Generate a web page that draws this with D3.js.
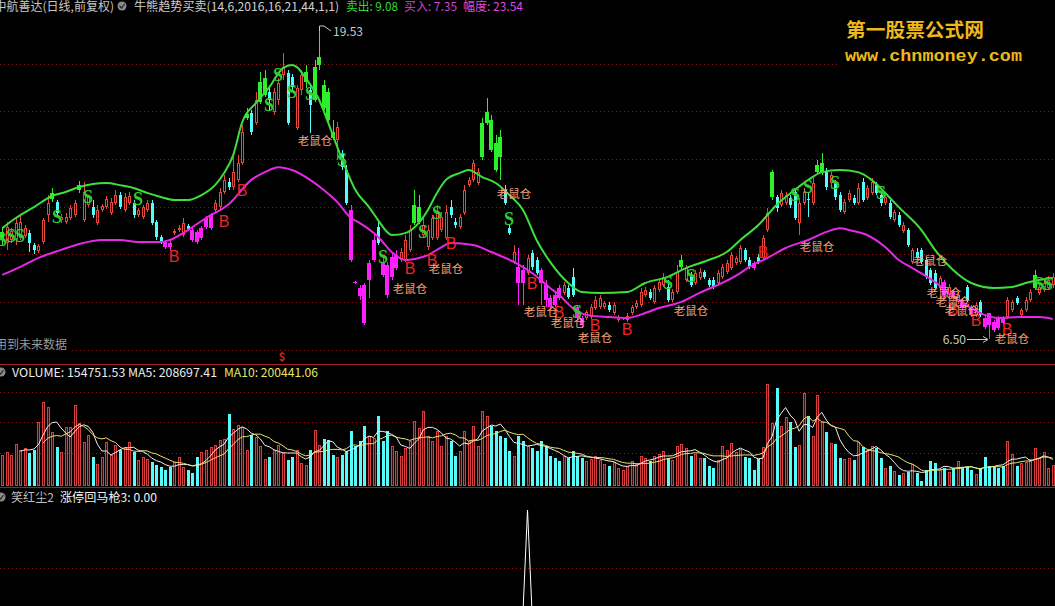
<!DOCTYPE html>
<html><head><meta charset="utf-8">
<script src="https://cdn.jsdelivr.net/npm/d3@7"></script>
<style>
html,body{margin:0;padding:0;background:#000;overflow:hidden}
svg{display:block}
text{font-family:"Noto Sans CJK SC","DejaVu Sans",sans-serif}
</style></head><body>
<svg id="c" width="1055" height="606"></svg>
<script>
// ---------------- DATA ----------------
const openP = [10.69,10.56,10.69,10.69,10.77,10.86,10.98,10.48,10.22,10.60,
11.75,12.42,12.29,11.53,11.45,11.62,11.75,12.80,11.53,12.17,
12.08,11.41,11.96,12.08,11.83,12.25,12.59,11.96,12.25,12.25,
11.75,11.66,11.96,12.25,11.45,10.82,10.60,10.56,10.98,11.11,
10.90,11.28,11.11,11.03,10.77,11.24,11.19,11.96,12.08,12.72,
13.14,12.93,13.23,13.94,15.84,16.06,15.63,16.53,16.82,16.95,
16.10,16.61,17.67,17.75,17.58,15.43,17.03,17.37,17.03,16.61,
18.09,17.24,16.95,15.26,14.92,14.37,13.65,11.96,8.91,8.66,
8.78,9.00,9.84,11.24,9.71,9.63,9.13,9.50,9.84,9.84,
10.27,11.41,11.45,10.90,10.39,10.77,10.77,11.11,10.77,12.08,
11.45,11.24,11.83,13.01,13.23,13.10,14.20,15.64,15.76,14.79,
15.05,12.80,11.19,9.76,9.55,9.42,9.29,10.14,9.84,9.42,
8.78,8.24,8.36,8.66,8.45,8.66,9.13,7.85,7.39,7.39,
7.43,7.81,7.85,7.85,7.94,7.60,7.30,7.35,7.30,7.60,
7.85,7.94,8.36,8.49,8.07,8.57,8.78,8.70,8.15,8.49,
9.55,9.00,9.21,8.87,9.08,9.33,9.00,9.00,8.87,9.13,
9.33,9.50,9.71,9.76,10.27,9.84,9.71,9.97,9.93,11.11,
12.51,12.51,12.17,12.25,12.46,12.72,11.41,12.25,12.42,12.25,
13.56,13.56,13.56,13.10,13.10,12.59,11.87,12.38,12.46,12.25,
13.14,12.46,12.68,13.01,12.59,12.25,12.25,11.53,11.75,11.07,
11.11,9.76,10.18,10.27,9.84,9.42,9.29,8.66,8.91,8.36,
8.49,8.07,8.15,8.70,7.85,7.52,8.07,7.39,7.60,7.22,
7.39,7.39,7.43,7.73,8.24,7.52,7.73,8.15,8.66,8.45,
8.57,8.66,8.78];
const highP = [11.19,11.45,11.19,11.62,11.75,11.32,11.11,10.56,10.52,11.62,
12.59,12.89,12.38,11.79,11.83,12.17,12.38,13.18,13.14,12.59,
12.38,12.17,12.21,12.55,12.46,12.80,12.72,12.68,12.72,12.38,
12.04,12.17,12.38,12.38,11.53,10.90,10.69,10.65,11.15,11.32,
11.62,11.37,11.19,11.11,11.28,11.70,11.83,12.38,12.89,13.44,
13.31,14.20,14.28,15.55,16.27,16.19,16.95,17.79,17.88,17.12,
17.12,17.54,18.60,17.88,17.71,17.24,17.88,18.09,17.24,18.30,
19.53,17.46,17.12,15.76,15.68,14.50,13.86,12.17,8.95,8.78,
8.87,9.84,10.90,11.45,10.05,9.76,10.18,10.27,10.35,10.90,
11.32,12.80,12.59,11.62,11.32,11.75,12.17,11.87,12.17,12.38,
11.62,11.79,13.01,13.35,14.07,13.73,15.85,16.69,15.97,15.13,
15.34,13.01,11.32,10.48,10.35,9.63,10.05,10.27,9.97,9.50,
9.00,8.36,8.49,8.78,8.91,8.78,9.50,7.94,7.47,7.73,
7.98,8.32,8.36,8.11,8.07,8.07,7.52,7.43,7.60,7.94,
8.15,8.66,8.70,8.62,8.78,9.00,9.29,9.00,8.62,9.63,
10.05,9.63,9.33,9.42,9.50,9.42,9.08,9.13,9.42,9.67,
9.84,10.18,10.01,10.48,10.35,9.97,9.80,10.10,10.90,12.04,
13.65,12.59,12.80,12.72,12.59,12.80,12.46,12.89,12.72,13.31,
14.07,14.37,13.73,13.56,13.23,12.72,12.42,12.80,12.59,13.10,
13.31,13.01,13.31,13.14,12.68,12.59,12.38,11.96,11.87,11.45,
11.19,10.35,10.35,10.35,9.93,9.50,9.42,9.17,9.00,8.83,
8.57,8.49,8.24,8.78,7.94,8.07,8.15,7.52,7.60,7.30,
7.47,7.47,8.28,8.15,8.32,7.81,8.28,8.62,9.42,8.78,
9.00,9.17,9.29];
const lowP = [10.48,10.27,10.56,10.48,10.69,10.77,10.18,10.10,10.14,10.52,
11.45,12.29,11.75,11.41,11.37,11.53,11.66,12.68,11.45,12.08,
11.62,11.32,11.87,12.00,11.75,12.17,12.00,11.87,12.17,11.62,
11.66,11.58,11.87,11.32,10.69,10.52,10.31,10.27,10.90,11.03,
10.82,11.07,10.60,10.52,10.69,11.15,11.11,11.87,12.00,12.63,
12.80,12.80,13.14,13.86,15.76,15.13,15.55,16.44,16.74,16.19,
15.97,16.40,17.46,15.55,17.03,15.34,16.82,17.12,15.21,16.53,
17.88,16.19,15.55,14.92,14.07,13.65,12.17,9.76,8.83,8.15,
7.09,8.24,9.76,10.48,9.13,8.24,9.00,9.42,9.76,9.76,
10.18,11.32,11.37,10.82,10.27,10.69,10.69,11.03,10.69,11.62,
11.19,11.15,11.75,12.93,13.14,13.01,14.07,15.55,14.41,13.56,
13.23,12.17,10.90,9.67,7.94,7.94,9.21,9.42,9.21,7.94,
7.85,7.77,7.85,8.15,8.36,8.19,8.28,7.30,6.97,7.30,
7.35,7.73,7.77,7.77,7.64,7.52,7.22,7.30,7.22,7.52,
7.77,7.85,8.28,8.15,7.98,8.49,8.70,8.07,8.07,8.40,
9.42,8.91,8.70,8.78,9.00,9.04,8.70,8.62,8.78,9.04,
9.25,9.42,9.63,9.67,9.76,9.46,9.42,9.67,9.84,11.03,
12.38,11.87,12.08,12.17,12.04,11.53,10.90,12.17,11.66,12.17,
13.44,13.44,12.80,12.97,12.38,11.87,11.79,12.29,12.17,12.17,
12.29,12.38,12.59,12.59,12.13,12.17,11.58,11.45,11.24,10.98,
10.39,9.67,9.84,9.67,9.04,8.78,8.57,8.57,8.28,8.24,
8.15,7.98,7.73,8.07,7.43,7.43,7.43,6.92,6.50,6.80,
6.88,7.09,7.35,7.64,7.94,7.43,7.64,8.07,8.57,8.36,
8.49,8.57,8.66];
const closeP = [11.03,11.24,11.07,11.41,11.45,11.19,10.56,10.27,10.43,11.53,
12.25,12.68,11.83,11.66,11.66,12.04,12.25,13.01,12.72,12.51,
11.75,11.96,12.13,12.42,12.29,12.59,12.08,12.51,12.55,11.75,
11.96,12.08,12.25,11.41,10.82,10.60,10.39,10.39,11.07,11.19,
11.41,11.15,10.69,10.60,11.19,11.62,11.75,12.25,12.72,13.23,
12.93,13.56,13.94,15.26,16.02,15.26,16.61,17.37,17.54,16.61,
16.95,17.33,18.01,15.64,17.16,17.12,17.67,17.79,16.40,18.01,
18.43,16.27,15.76,15.00,15.47,13.78,12.25,9.84,8.87,8.32,
7.18,9.71,10.69,10.56,9.21,8.36,9.97,10.05,10.18,10.69,
11.11,12.17,12.08,11.32,11.11,11.62,11.83,11.66,11.87,11.75,
11.32,11.66,12.80,13.23,13.94,13.56,15.64,16.10,14.50,13.65,
14.20,12.25,10.98,10.18,8.87,8.87,9.93,9.55,9.29,8.87,
8.15,7.85,7.94,8.24,8.78,8.28,8.36,7.43,7.09,7.64,
7.85,8.15,8.24,8.02,7.73,7.94,7.43,7.39,7.47,7.85,
8.02,8.49,8.57,8.24,8.66,8.91,9.13,8.15,8.49,9.33,
9.84,9.50,8.78,9.29,9.33,9.13,8.78,8.70,9.29,9.55,
9.71,10.05,9.93,10.35,9.84,9.55,9.50,9.76,10.77,11.83,
13.56,12.04,12.68,12.59,12.17,11.62,12.25,12.72,12.38,13.10,
13.86,13.94,12.93,13.44,12.51,11.96,12.29,12.68,12.25,12.89,
12.38,12.89,13.14,12.68,12.25,12.51,11.66,11.87,11.32,11.32,
10.48,10.27,9.93,9.76,9.13,8.87,8.66,9.08,8.36,8.70,
8.24,8.36,7.81,8.15,7.52,7.94,7.52,7.01,7.09,6.88,
6.97,7.18,8.15,8.07,8.02,7.73,8.15,8.49,9.21,8.70,
8.87,9.00,9.13];
const volumes = [226300,248200,226300,306600,262800,277400,240900,262800,467200,613200,
576700,394200,284700,248200,430700,430700,591300,459900,321200,372300,
211700,160600,211700,321200,226300,299300,262800,284700,321200,248200,
189800,211700,197100,175200,153300,138700,116800,138700,175200,211700,
138700,116800,94900,211700,248200,262800,284700,299300,335800,343100,
525600,416100,445300,430700,262800,372300,357700,292000,197100,211700,
262800,299300,240900,189800,211700,262800,167900,153300,262800,408800,
299300,343100,335800,226300,211700,226300,255500,401500,292000,328500,
438000,365000,350400,511000,328500,401500,292000,255500,219000,277400,
328500,474500,423400,547500,365000,328500,401500,292000,365000,328500,
219000,255500,401500,328500,438000,292000,547500,511000,438000,401500,
365000,350400,255500,219000,365000,328500,292000,277400,255500,328500,
292000,219000,204400,182500,219000,204400,255500,219000,204400,182500,
197100,219000,189800,160600,146000,175200,131400,116800,146000,182500,
160600,219000,204400,182500,219000,233600,255500,204400,189800,292000,
306600,277400,219000,233600,204400,202200,146000,129200,189800,292000,
262800,311700,250400,267900,213900,202200,116800,194900,286900,744600,
462100,713200,438000,505900,469400,286900,299300,676700,511000,365000,
664300,469400,396400,311700,306600,202200,197100,206600,189800,323400,
286900,262800,292000,275200,202200,129200,146000,111700,80300,97100,
104400,160600,92700,38700,116800,184700,165700,121900,129200,104400,
129200,182500,136500,136500,116800,87600,129200,209500,146000,140900,
129200,146000,328500,233600,146000,170100,177400,194900,275200,202200,
250400,129200,154751.53];
// candles painted as sell-zone (green) / buy-zone (magenta)
const sellZone = [0,11,17,54,57,58,67,69,70,71,72,73,91,92,106,107,108,109,110,150,170,180,181,228];
const buyZone = [36,37,42,43,44,45,46,77,78,79,80,81,82,84,85,86,87,114,115,119,120,121,122,123,127,128,166,208,210,212,214,217,218,219,220,221];
// upper (sell) trend line and lower (buy) trend line, read at bar indices
const upperIdx = [0,3,7,11,14,17,20,23,26,29,32,35,38,41,44,47,49,51,53,56,59,62,64,65,67,70,72,74,76,78,81,83,85,86,89,92,94,96,98,101,103,106,109,112,115,118,121,125,128,132,138,142,147,151,156,160,163,167,171,175,178,181,185,189,192,195,198,203,206,210,214,219,223,226,231,232];
const upperVal = [11.19,11.62,12.08,12.55,12.72,12.93,13.06,13.10,13.01,12.89,12.68,12.51,12.38,12.38,12.59,13.01,13.52,14.28,15.68,16.48,17.16,17.96,18.09,18.01,17.54,16.61,15.64,14.62,13.65,12.80,12.08,11.53,11.03,10.90,10.98,11.41,11.96,12.68,13.23,13.52,13.65,13.35,13.10,12.59,11.96,10.69,9.76,8.87,8.49,8.45,8.49,8.87,9.13,9.50,9.84,10.18,10.69,11.32,12.17,12.80,13.23,13.56,13.65,13.56,13.23,12.68,12.08,11.11,10.27,9.42,8.87,8.66,8.70,8.87,9.06,9.08];
const lowerIdx = [0,4,8,13,17,22,26,30,35,37,41,45,50,55,58,61,64,68,71,74,77,79,83,86,89,92,94,97,99,104,108,113,117,121,123,126,129,134,138,142,145,150,154,159,163,165,169,173,178,182,185,187,191,195,198,201,206,210,214,217,220,225,229,232];
const lowerVal = [9.21,9.55,9.93,10.27,10.52,10.69,10.69,10.60,10.60,10.69,11.11,11.62,12.20,13.23,13.56,13.77,13.65,13.23,12.80,12.29,11.62,11.40,10.82,10.18,9.84,9.93,10.05,10.39,10.56,10.48,10.18,9.76,9.29,8.66,8.36,7.81,7.52,7.43,7.39,7.60,7.81,8.07,8.45,8.87,9.29,9.55,9.93,10.35,10.69,11.03,11.19,11.11,10.90,10.39,9.84,9.50,8.91,8.28,7.81,7.52,7.39,7.43,7.43,7.35];
// signal labels: [bar index, price]
const sSignals = [[0,10.69],[2,10.86],[4,10.86],[12,11.66],[19,12.51],[30,12.42],[59,16.40],[61,17.67],[64,16.95],[68,16.86],[75,14.07],[84,9.97],[93,11.03],[96,11.83],[112,11.58],[127,7.64],[147,8.87],[152,9.17],[175,12.59],[178,12.93],[184,13.10],[194,12.68],[229,8.83],[231,8.83]];
const bSignals = [[38,9.97],[49,11.45],[53,12.80],[90,9.50],[95,9.84],[99,10.56],[117,8.83],[123,7.64],[131,7.05],[138,6.92],[168,10.18],[210,7.73],[215,7.30],[222,6.92]];
const ratSignals = [[69,14.92],[90,8.66],[98,9.50],[113,12.68],[119,7.68],[125,7.22],[131,6.59],[152,7.73],[180,10.43],[205,9.84],[208,8.49],[210,8.11],[212,7.73],[223,6.54]];
const priceGrid = [18.13,16.15,14.11,12.08,10.10,8.07,6.04];
const volGrid = [686000,467000,241000];
const indGrid = [4.3];
const indIdx = [115,116,117];
const indVal = [0,10,0];
const maxInfo = {idx:70, price:19.53};
const minInfo = {idx:218, price:6.50};

// ---------------- DRAW ----------------
const W = 1055, H = 606, N = closeP.length;
const svg = d3.select('#c');
svg.append('rect').attr('width',W).attr('height',H).attr('fill','#000');
const x = d3.scaleBand().domain(d3.range(N)).range([0, W]);
const cx = i => Math.round(x(i) + x.bandwidth()/2);
const y = d3.scaleLinear().domain([6.50, 19.53]).range([339, 31]);
const yv = d3.scaleLinear().domain([0, 744600]).range([486, 384]);
const yi = d3.scaleLinear().domain([0, 10]).range([612, 510]);
const COL = {up:'#e8483c', down:'#54fcfc', sell:'#2bf02b', buy:'#ff20ff', grid:'#8c1a1a', sep:'#a81e1e'};
const sellSet = new Set(sellZone), buySet = new Set(buyZone);

const defs = svg.append('defs');
defs.append('clipPath').attr('id','cm').append('rect').attr('x',0).attr('y',14).attr('width',W).attr('height',350);
defs.append('clipPath').attr('id','cv').append('rect').attr('x',0).attr('y',365).attr('width',W).attr('height',122);
defs.append('clipPath').attr('id','ci').append('rect').attr('x',0).attr('y',488).attr('width',W).attr('height',118);

// grids
const g0 = svg.append('g').attr('shape-rendering','crispEdges');
g0.selectAll('.pg').data(priceGrid).join('line')
  .attr('x1',0).attr('x2',W).attr('y1',d=>Math.round(y(d))+0.5).attr('y2',d=>Math.round(y(d))+0.5)
  .attr('stroke',COL.grid).attr('stroke-dasharray','1,3');
g0.selectAll('.vg').data(volGrid).join('line')
  .attr('x1',0).attr('x2',W).attr('y1',d=>Math.round(yv(d))+0.5).attr('y2',d=>Math.round(yv(d))+0.5)
  .attr('stroke',COL.grid).attr('stroke-dasharray','1,3');
g0.selectAll('.ig').data(indGrid).join('line')
  .attr('x1',0).attr('x2',W).attr('y1',d=>Math.round(yi(d))+0.5).attr('y2',d=>Math.round(yi(d))+0.5)
  .attr('stroke',COL.grid).attr('stroke-dasharray','1,3');
[364,487].forEach(v=>g0.append('line').attr('x1',0).attr('x2',W).attr('y1',v+0.5).attr('y2',v+0.5).attr('stroke',COL.sep));

// candles
const gm = svg.append('g').attr('clip-path','url(#cm)').attr('shape-rendering','crispEdges');
d3.range(N).forEach(i=>{
  const o=openP[i], c=closeP[i], h=highP[i], l=lowP[i];
  const X = cx(i);
  const yT = Math.round(y(Math.max(o,c))), yB = Math.round(y(Math.min(o,c)));
  const yH = Math.round(y(h)), yL = Math.round(y(l));
  let col, hollow=false, w=3;
  if (sellSet.has(i)) { col = COL.sell; w=4; }
  else if (buySet.has(i)) { col = COL.buy; w=4; }
  else if (c >= o) { col = COL.up; hollow = true; }
  else col = COL.down;
  if (hollow) {
    gm.append('line').attr('x1',X+0.5).attr('x2',X+0.5).attr('y1',yH).attr('y2',yT).attr('stroke',col);
    gm.append('line').attr('x1',X+0.5).attr('x2',X+0.5).attr('y1',yB).attr('y2',yL).attr('stroke',col);
    gm.append('rect').attr('x',X-0.5).attr('y',yT+0.5).attr('width',2).attr('height',Math.max(0,yB-yT-1))
      .attr('fill','#000').attr('stroke',col);
  } else {
    gm.append('line').attr('x1',X+0.5).attr('x2',X+0.5).attr('y1',yH).attr('y2',yL).attr('stroke',col);
    gm.append('rect').attr('x',X-Math.floor(w/2)).attr('y',yT).attr('width',w).attr('height',Math.max(1,yB-yT)).attr('fill',col);
  }
});

// trend lines
const gl = svg.append('g').attr('clip-path','url(#cm)');
const lineU = d3.line().x((d,k)=>x(upperIdx[k])+x.bandwidth()/2).y(d=>y(d)).curve(d3.curveMonotoneX);
const lineL = d3.line().x((d,k)=>x(lowerIdx[k])+x.bandwidth()/2).y(d=>y(d)).curve(d3.curveMonotoneX);
gl.append('path').attr('d',lineU(upperVal)).attr('fill','none').attr('stroke','#3ce03c').attr('stroke-width',2);
gl.append('path').attr('d',lineL(lowerVal)).attr('fill','none').attr('stroke','#e628e6').attr('stroke-width',2);

// signal labels
const gs = svg.append('g').attr('clip-path','url(#cm)');
gs.selectAll('.s').data(sSignals).join('text')
  .attr('x',d=>cx(d[0])).attr('y',d=>y(d[1])).attr('text-anchor','middle').attr('dominant-baseline','central')
  .style('font-family','"Liberation Serif",serif').style('font-size','18px').style('font-weight','bold').attr('fill','#30cc30').text('S');
gs.selectAll('.b').data(bSignals).join('text')
  .attr('x',d=>cx(d[0])).attr('y',d=>y(d[1])).attr('text-anchor','middle').attr('dominant-baseline','central')
  .style('font-family','"Liberation Sans",sans-serif').style('font-size','16px').attr('fill','#f02424').text('B');
gs.selectAll('.r').data(ratSignals).join('text')
  .attr('x',d=>cx(d[0])).attr('y',d=>y(d[1])).attr('text-anchor','middle').attr('dominant-baseline','central')
  .style('font-size','11.5px').attr('fill','#f4a07a').text('老鼠仓');

// max / min markers
{
  const X = cx(maxInfo.idx), Y = y(maxInfo.price);
  svg.append('path').attr('d',`M${X+0.5},${Y} L${X+0.5},${Y-5} L${X+5},${Y-5} L${X+12},${Y}`)
    .attr('fill','none').attr('stroke','#c8c8c8');
  svg.append('text').attr('x',X+14).attr('y',Y+5).style('font-size','12px').attr('fill','#c8c8c8').text(maxInfo.price.toFixed(2));
  const X2 = cx(minInfo.idx), Y2 = Math.round(y(minInfo.price));
  svg.append('line').attr('x1',X2-22).attr('x2',X2-2).attr('y1',Y2+0.5).attr('y2',Y2+0.5).attr('stroke','#c8c8c8');
  svg.append('path').attr('d',`M${X2-6},${Y2-2.5} L${X2-1},${Y2+0.5} L${X2-6},${Y2+3.5}`).attr('fill','none').attr('stroke','#c8c8c8');
  svg.append('text').attr('x',X2-23).attr('y',Y2+5).attr('text-anchor','end').style('font-size','12px').attr('fill','#c8c8c8').text(minInfo.price.toFixed(2));
}

// volume bars
const gv = svg.append('g').attr('clip-path','url(#cv)').attr('shape-rendering','crispEdges');
d3.range(N).forEach(i=>{
  const X = cx(i), top = Math.round(yv(volumes[i])), base = Math.round(yv(0));
  if (closeP[i] >= openP[i]) {
    gv.append('rect').attr('x',X-0.5).attr('y',top+0.5).attr('width',2).attr('height',Math.max(0,base-top-1))
      .attr('fill','#3a0c0c').attr('stroke','#d84040');
  } else {
    gv.append('rect').attr('x',X-1).attr('y',top).attr('width',3).attr('height',base-top).attr('fill',COL.down);
  }
});
const ma = n => volumes.map((v,i)=> i<n-1 ? null : d3.mean(volumes.slice(i-n+1,i+1)));
const ma5 = ma(5), ma10 = ma(10);
const lv = d3.line().defined(d=>d!=null).x((d,i)=>x(i)+x.bandwidth()/2).y(d=>yv(d));
const gvl = svg.append('g').attr('clip-path','url(#cv)');
gvl.append('path').attr('d',lv(ma5)).attr('fill','none').attr('stroke','#f0f0f0').attr('stroke-width',1);
gvl.append('path').attr('d',lv(ma10)).attr('fill','none').attr('stroke','#e8e46a').attr('stroke-width',1);

// indicator spike
const gi = svg.append('g').attr('clip-path','url(#ci)');
gi.append('path').attr('d',d3.line().x((d,k)=>x(indIdx[k])+x.bandwidth()/2).y(d=>yi(d))(indVal))
  .attr('fill','none').attr('stroke','#ffffff').attr('stroke-width',1);

// ---------------- TEXTS ----------------
function icon(xc, yc){
  svg.append('circle').attr('cx',xc).attr('cy',yc).attr('r',4.5).attr('fill','#8a8a8a');
  svg.append('path').attr('d',`M${xc-2.5},${yc} L${xc-0.5},${yc+2} L${xc+2.5},${yc-2}`).attr('fill','none').attr('stroke','#222').attr('stroke-width',1.2);
}
const t = (xx,yy,str,fill,opt={})=>{
  const e = svg.append('text').attr('x',xx).attr('y',yy).style('font-size',(opt.size||12)+'px').attr('fill',fill).text(str);
  if (opt.anchor) e.attr('text-anchor',opt.anchor);
  if (opt.len) e.attr('textLength',opt.len).attr('lengthAdjust','spacingAndGlyphs');
  if (opt.family) e.style('font-family',opt.family);
  if (opt.weight) e.style('font-weight',opt.weight);
  return e;
};
t(114,11,'中航善达(日线,前复权)','#c8c8c8',{anchor:'end'});
icon(122,6);
t(134,11,'牛熊趋势买卖(14,6,2016,16,21,44,1,1)','#d0d0d0',{len:205});
t(346,11,'卖出: 9.08','#36d836',{len:52});
t(404,11,'买入: 7.35','#cc46cc',{len:53});
t(463,11,'幅度: 23.54','#dd48dd',{len:60});

// watermark
svg.append('rect').attr('x',838).attr('y',14).attr('width',217).attr('height',56).attr('fill','#000');
t(846,37,'第一股票公式网','#ecb81c',{size:19,weight:'bold',len:138});
t(845,61,'www.chnmoney.com','#ecb81c',{size:17,weight:'bold',family:'"Liberation Mono",monospace',len:177});

// future-data note
svg.append('rect').attr('x',0).attr('y',338).attr('width',70).attr('height',16).attr('fill','#000');
t(67,349,'用到未来数据','#9a9a9a',{anchor:'end'});
t(282,361,'$','#e02020',{size:11,anchor:'middle',weight:'bold'});

// volume title
icon(1,372);
t(12,377,'VOLUME: 154751.53  MA5: 208697.41','#ececec',{len:205});
t(224,377,'MA10: 200441.06','#e8e46a',{len:94});

// indicator title
icon(1,497);
t(11,502,'笑红尘2','#bdbdbd',{len:43});
t(60,502,'涨停回马枪3: 0.00','#f4f4f4',{len:97});
</script>
</body></html>
